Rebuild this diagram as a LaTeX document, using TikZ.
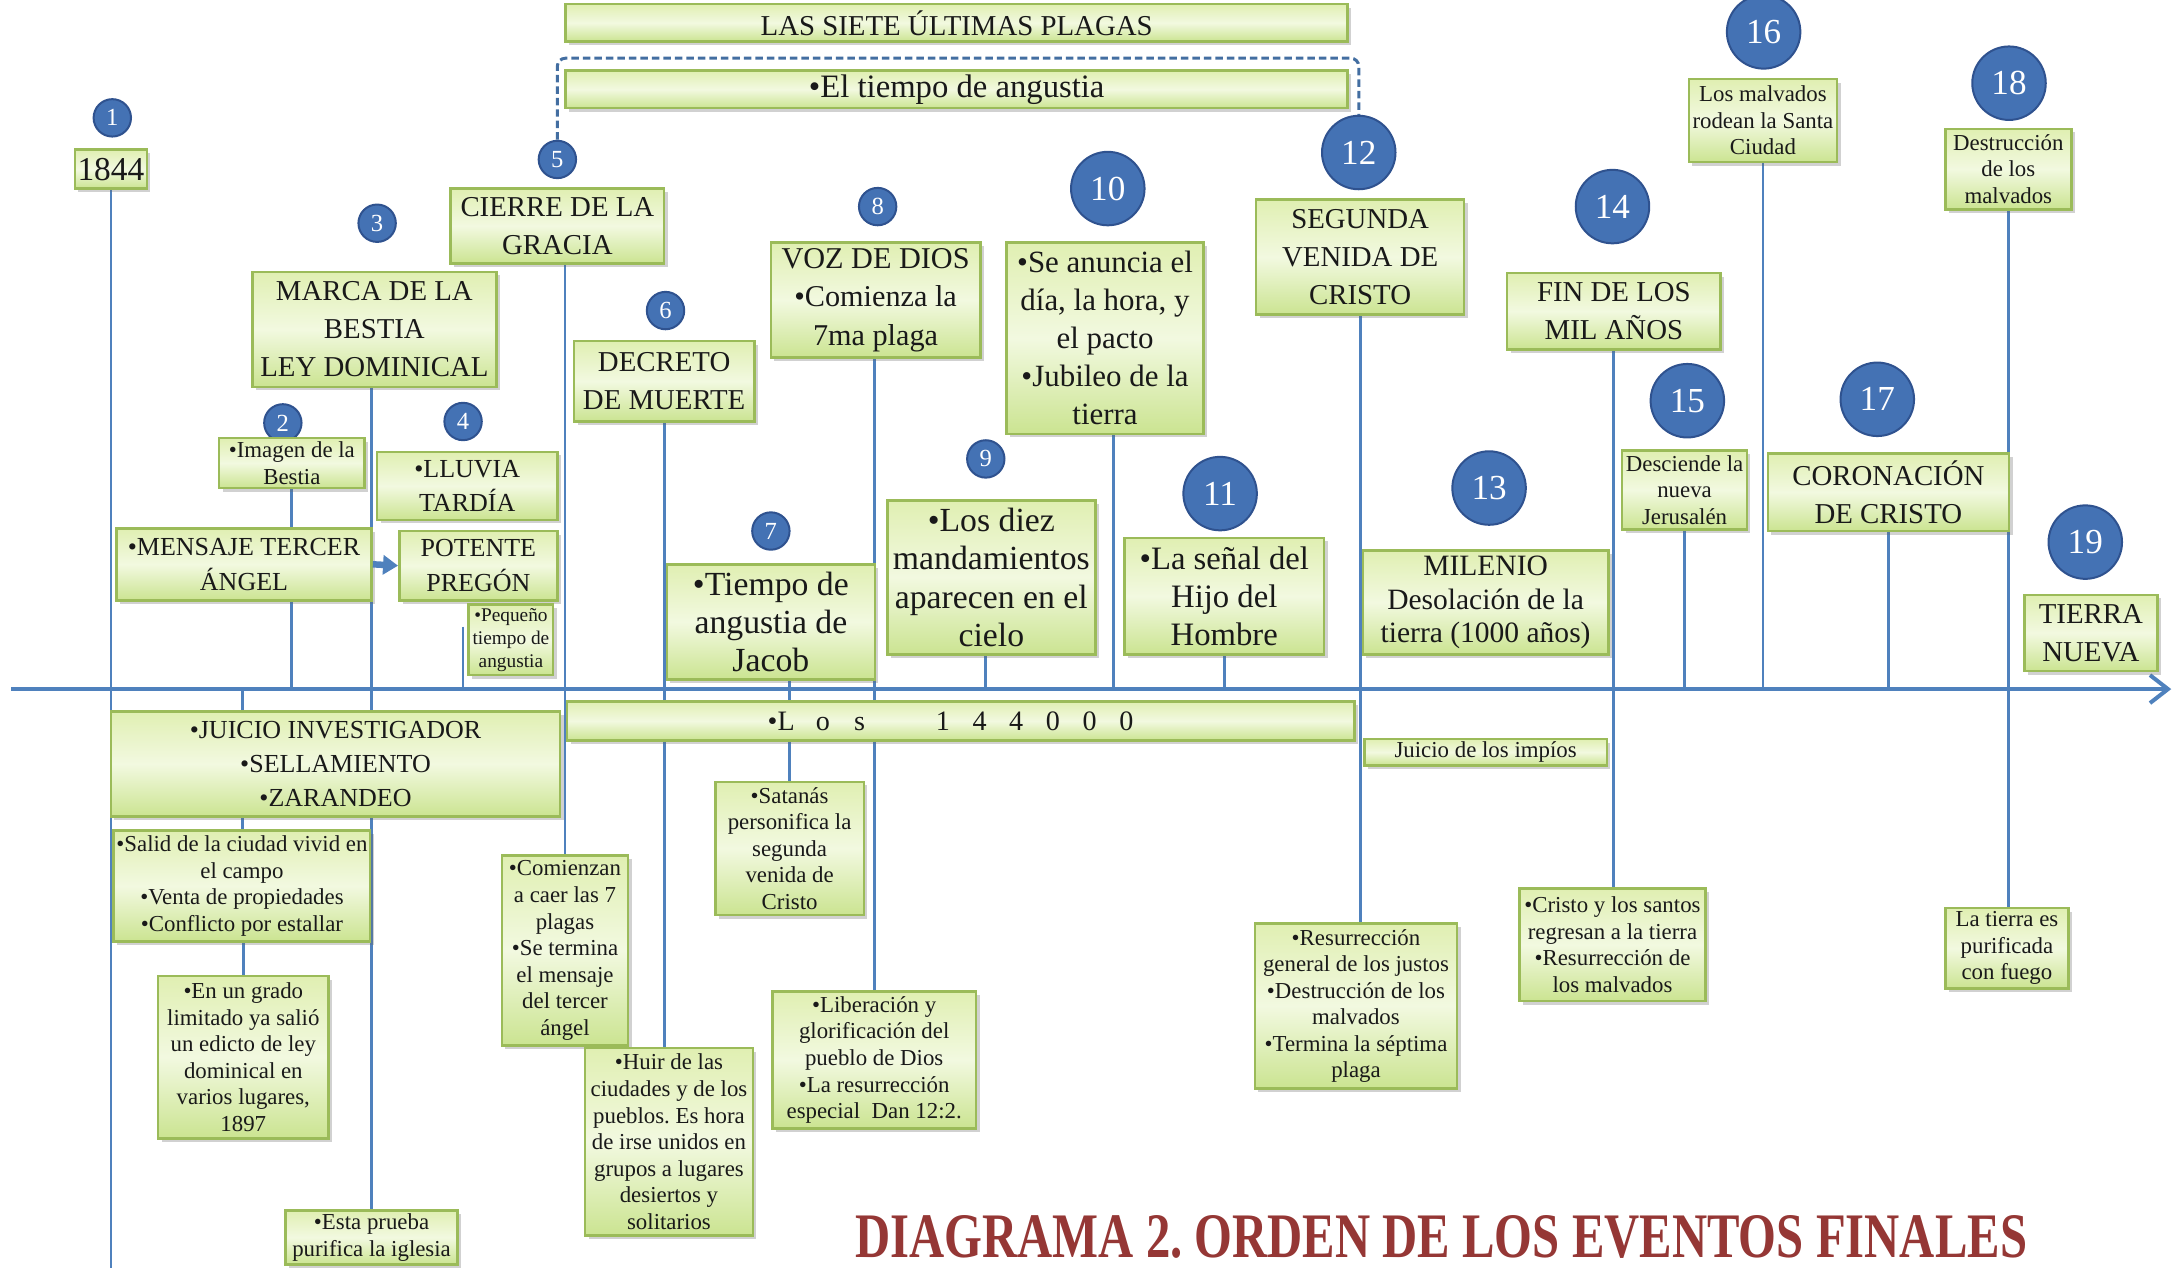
\documentclass[tikz,border=0pt]{standalone}
\usepackage{fontspec}
\setmainfont{Liberation Serif}
\usepackage{graphicx}
\usetikzlibrary{arrows.meta,shadows}
\frenchspacing
\definecolor{boxborder}{RGB}{155,187,89}
\definecolor{boxtop}{RGB}{224,239,178}
\definecolor{boxmid}{RGB}{242,249,224}
\definecolor{boxbot}{RGB}{203,228,145}
\definecolor{lineblue}{RGB}{79,129,189}
\definecolor{circfill}{RGB}{68,114,180}
\definecolor{circdraw}{RGB}{47,82,143}
\definecolor{titlered}{RGB}{149,55,53}
\pgfdeclarelayer{bg}
\pgfsetlayers{bg,main}
\newcommand\mkbox[7]{%
  \pgfmathsetlengthmacro\mkbw{(#5-#3)*0.13865mm}%
  \pgfmathsetlengthmacro\mkbh{(#6-#4)*0.13865mm}%
  \node[box,#2,minimum width=\mkbw,minimum height=\mkbh] (#1) at ({(#3+#5)/2},{(#4+#6)/2}) {#7};}
\newcommand\spch[1]{\makebox[3.674mm]{#1}}
\begin{document}
\begin{tikzpicture}[x=0.13865mm,y=-0.13865mm,
  box/.style={draw=boxborder, line width=0.25mm, top color=boxtop, bottom color=boxbot, middle color=boxmid,
    inner sep=0pt, align=center, text=black!90,
    drop shadow={shadow xshift=0.35mm, shadow yshift=-0.35mm, opacity=0.3, fill=black!60}},
  fB/.style={font=\fontsize{8.2}{10.8}\selectfont},
  fM/.style={font=\fontsize{9.3}{10.8}\selectfont},
  fJ/.style={font=\fontsize{9.6}{10.9}\selectfont},
  fA/.style={font=\fontsize{8.8}{10.8}\selectfont},
  fV/.style={font=\fontsize{8.6}{10.9}\selectfont},
  fMil/.style={font=\fontsize{8.4}{9.6}\selectfont},
  fMC/.style={font=\fontsize{7.4}{9.8}\selectfont},
  fS/.style={font=\fontsize{6.5}{7.55}\selectfont},
  fXS/.style={font=\fontsize{5.5}{6.6}\selectfont},
  fY/.style={font=\fontsize{9.5}{10}\selectfont},
  f144/.style={font=\fontsize{8}{9}\selectfont},
  numS/.style={circle, fill=circfill, draw=circdraw, line width=0.2mm, minimum size=3.74mm, inner sep=0pt, text=white, font=\fontsize{7}{8}\selectfont},
  numL/.style={circle, fill=circfill, draw=circdraw, line width=0.2mm, minimum size=7.35mm, inner sep=0pt, text=white, font=\fontsize{10}{11}\selectfont},
  ln/.style={draw=lineblue, line width=0.28mm},
  axisln/.style={draw=lineblue, line width=0.4mm, -{Straight Barb[length=1.8mm,width=2.8mm]}},
  arr/.style={draw=lineblue, line width=0.65mm, -{Triangle[length=1.5mm,width=1.9mm]}},
  dashln/.style={draw=lineblue!85!black, line width=0.3mm, dash pattern=on 0.75mm off 0.4mm, rounded corners=0.8mm}
]
\useasboundingbox (0,0) rectangle (1568,914);

\coordinate (axL) at (8,497);
\coordinate (axR) at (1566,497);
\coordinate (bot) at (80,918);
\coordinate (peqtop) at (334,452);
\coordinate (dtop) at (690,42);

% numbered circles
\node[numS] (c1) at (81,85) {1};
\node[numS] (c2) at (204,305) {2};
\node[numS] (c3) at (272,161) {3};
\node[numS] (c4) at (334,304) {4};
\node[numS] (c5) at (402,115) {5};
\node[numS] (c6) at (480,224) {6};
\node[numS] (c7) at (556,383) {7};
\node[numS] (c8) at (633,149) {8};
\node[numS] (c9) at (711,331) {9};
\node[numL] (c10) at (799,136) {10};
\node[numL] (c11) at (880,356) {11};
\node[numL] (c12) at (980,110) {12};
\node[numL] (c13) at (1074,352) {13};
\node[numL] (c14) at (1163,149) {14};
\node[numL] (c15) at (1217,289) {15};
\node[numL] (c16) at (1272,23) {16};
\node[numL] (c17) at (1354,288) {17};
\node[numL] (c18) at (1449,60) {18};
\node[numL] (c19) at (1504,391) {19};

% boxes
\mkbox{tPlagas}{fB}{408}{3}{972}{30}{LAS SIETE ÚLTIMAS PLAGAS}
\mkbox{tAngustia}{fM}{408}{51}{972}{78}{•El tiempo de angustia}
\mkbox{n1844}{fY}{54}{108}{106}{136}{1844}
\mkbox{bCierre}{fB}{325}{136}{479}{190}{CIERRE DE LA\\GRACIA}
\mkbox{bMarca}{fB}{182}{196}{358}{279}{MARCA DE LA\\BESTIA\\LEY DOMINICAL}
\mkbox{bImagen}{fS}{158}{316}{263}{352}{•Imagen de la\\Bestia}
\mkbox{bLluvia}{fMC}{272}{326}{402}{375}{•LLUVIA\\TARDÍA}
\mkbox{bMensaje}{fMC}{84}{381}{268}{433}{•MENSAJE TERCER\\ÁNGEL}
\mkbox{bPotente}{fMC}{288}{383}{402}{433}{POTENTE\\PREGÓN}
\mkbox{bPeq}{fXS}{338}{436}{399}{487}{•Pequeño\\tiempo de\\angustia}
\mkbox{bJuicio}{fMC}{80}{513}{404}{589}{•JUICIO INVESTIGADOR\\•SELLAMIENTO\\•ZARANDEO}
\mkbox{bSalid}{fS}{82}{599}{267}{679}{•Salid de la ciudad vivid en\\el campo\\•Venta de propiedades\\•Conflicto por estallar}
\mkbox{bGrado}{fS}{114}{704}{237}{821}{•En un grado\\limitado ya salió\\un edicto de ley\\dominical en\\varios lugares,\\1897}
\mkbox{bPrueba}{fS}{206}{873}{330}{912}{•Esta prueba\\purifica la iglesia}
\mkbox{bDecreto}{fB}{414}{246}{544}{304}{DECRETO\\DE MUERTE}
\mkbox{bComienzan}{fS}{362}{617}{453}{754}{•Comienzan\\a caer las 7\\plagas\\•Se termina\\el mensaje\\del tercer\\ángel}
\mkbox{bHuir}{fS}{422}{756}{543}{891}{•Huir de las\\ciudades y de los\\pueblos. Es hora\\de irse unidos en\\grupos a lugares\\desiertos y\\solitarios}
\mkbox{bJacob}{fJ}{481}{407}{631}{490}{•Tiempo de\\angustia de\\Jacob}
\mkbox{b144}{f144}{409}{506}{977}{534}{\spch{\llap{•}L}\spch{o}\spch{s}\hspace{4.645mm}\spch{1}\spch{4}\spch{4}\spch{0}\spch{0}\spch{0}\hspace{0.9mm}}
\mkbox{bSatanas}{fS}{516}{564}{623}{660}{•Satanás\\personifica la\\segunda\\venida de\\Cristo}
\mkbox{bVoz}{fV}{556}{175}{707}{258}{VOZ DE DIOS\\•Comienza la\\7ma plaga}
\mkbox{bLiber}{fS}{557}{715}{704}{814}{•Liberación y\\glorificación del\\pueblo de Dios\\•La resurrección\\especial~ Dan 12:2.}
\mkbox{bDiez}{fJ}{640}{361}{790}{472}{•Los diez\\mandamientos\\aparecen en el\\cielo}
\mkbox{bAnuncia}{fA}{726}{175}{868}{313}{•Se anuncia el\\día, la hora, y\\el pacto\\•Jubileo de la\\tierra}
\mkbox{bSenal}{fM}{811}{388}{955}{472}{•La señal del\\Hijo del\\Hombre}
\mkbox{bSegunda}{fB}{906}{144}{1056}{227}{SEGUNDA\\VENIDA DE\\CRISTO}
\mkbox{bResur}{fS}{905}{666}{1051}{785}{•Resurrección\\general de los justos\\•Destrucción de los\\malvados\\•Termina la séptima\\plaga}
\mkbox{bMilenio}{fMil}{983}{397}{1160}{472}{MILENIO\\Desolación de la\\tierra (1000 años)}
\mkbox{bImpios}{fS}{984}{533}{1159}{552}{Juicio de los impíos}
\mkbox{bFin}{fB}{1087}{197}{1241}{252}{FIN DE LOS\\MIL AÑOS}
\mkbox{bCristo}{fS}{1096}{641}{1230}{722}{•Cristo y los santos\\regresan a la tierra\\•Resurrección de\\los malvados}
\mkbox{bDesc}{fS}{1170}{325}{1260}{382}{Desciende la\\nueva\\Jerusalén}
\mkbox{bRodean}{fS}{1218}{57}{1325}{117}{Los malvados\\rodean la Santa\\Ciudad}
\mkbox{bCoron}{fB}{1275}{327}{1449}{383}{CORONACIÓN\\DE CRISTO}
\mkbox{bDestr}{fS}{1403}{93}{1494}{151}{Destrucción\\de los\\malvados}
\mkbox{bPurif}{fS}{1403}{655}{1492}{713}{La tierra es\\purificada\\con fuego}
\mkbox{bTierra}{fB}{1460}{429}{1556}{484}{TIERRA\\NUEVA}

% title
\node[anchor=base, inner sep=0pt, text=titlered, font=\bfseries] (title) at (1039.5,907)
  {\resizebox{117.2mm}{4.2mm}{DIAGRAMA 2. ORDEN DE LOS EVENTOS FINALES}};

% connectors
\begin{pgfonlayer}{bg}
\draw[axisln] (axL) -- (axR);
\draw[ln] (n1844.south) -- (n1844.south |- bot);
\draw[ln] (bImagen.south) -- (bImagen.south |- axL);
\draw[ln] (bMarca.south -| bPrueba.north) -- (bPrueba.north);
\draw[ln] (peqtop) -- (peqtop |- axL);
\draw[ln] (bCierre.south -| bComienzan.north) -- (bComienzan.north);
\draw[ln] (bDecreto.south) -- (bDecreto.south |- bHuir.north);
\draw[ln] (bJacob.south -| bSatanas.north) -- (bSatanas.north);
\draw[ln] (bVoz.south -| bLiber.north) -- (bLiber.north);
\draw[ln] (711,0 |- bDiez.south) -- (711,0 |- axL);
\draw[ln] (803,0 |- bAnuncia.south) -- (803,0 |- axL);
\draw[ln] (bSenal.south) -- (bSenal.south |- axL);
\draw[ln] (bSegunda.south) -- (bSegunda.south |- bResur.north);
\draw[ln] (bFin.south) -- (bFin.south |- bCristo.north);
\draw[ln] (bDesc.south) -- (bDesc.south |- axL);
\draw[ln] (bRodean.south) -- (bRodean.south |- axL);
\draw[ln] (bCoron.south) -- (bCoron.south |- axL);
\draw[ln] (bDestr.south) -- (bDestr.south |- bPurif.north);
\draw[ln] (175,0 |- axL) -- (175,0 |- bJuicio.north);
\draw[ln] (175,0 |- bJuicio.south) -- (175,0 |- bSalid.north);
\draw[ln] (bSalid.south -| bGrado.north) -- (bGrado.north);
\draw[dashln] (c5.north) |- (dtop) -| (c12.north);
\end{pgfonlayer}
\draw[arr] (bMensaje.east) -- (bPotente.west);
\end{tikzpicture}
\end{document}
